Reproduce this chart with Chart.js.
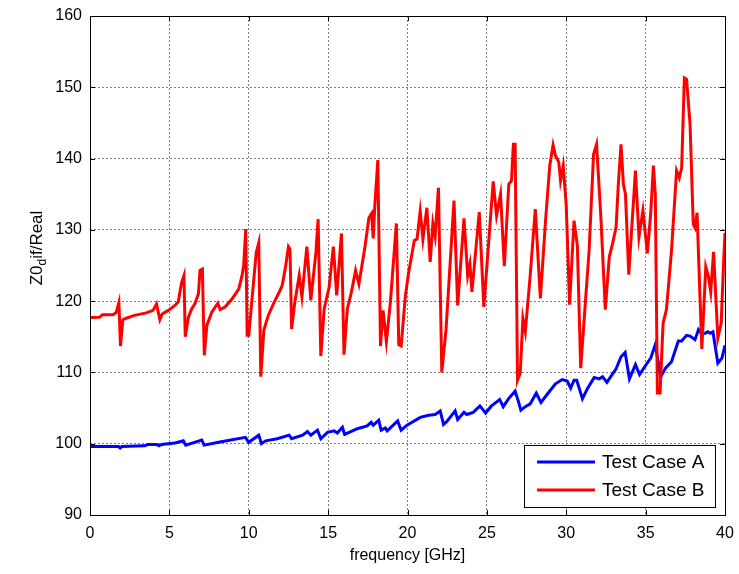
<!DOCTYPE html>
<html>
<head>
<meta charset="utf-8">
<script src="https://cdn.jsdelivr.net/npm/chart.js@4.4.0/dist/chart.umd.min.js"></script>
<style>
  html, body { margin: 0; padding: 0; background: #fff; }
</style>
</head>
<body>
<canvas id="z0Chart" width="739" height="574"></canvas>
<script>
// frequency axis values (GHz) and Z0dif/Real for each test case
const freqA = [0.0, 1.8, 1.9, 2.0, 3.45, 3.66, 4.2, 4.35, 4.5, 5.35, 5.88, 6.03, 7.04, 7.19, 8.1, 9.79, 10.0,
  10.63, 10.8, 11.06, 11.8, 12.54, 12.7, 13.39, 13.7, 13.91, 14.33, 14.54, 14.96, 15.38, 15.58, 15.9, 16.04,
  16.84, 17.46, 17.71, 17.84, 18.19, 18.34, 18.6, 18.72, 19.38, 19.6, 19.97, 20.8, 21.33, 21.74, 22.06, 22.27,
  22.47, 23.0, 23.16, 23.56, 23.73, 24.14, 24.56, 24.92, 25.29, 25.81, 26.03, 26.36, 26.78, 26.99, 27.14, 27.42,
  27.73, 28.11, 28.41, 28.79, 29.32, 29.75, 30.06, 30.28, 30.49, 30.66, 31.02, 31.33, 31.76, 32.08, 32.29, 32.56,
  32.92, 33.14, 33.45, 33.71, 33.98, 34.36, 34.62, 34.94, 35.32, 35.61, 35.95, 36.25, 36.63, 37.06, 37.27, 37.58,
  37.8, 38.11, 38.33, 38.54, 38.75, 38.92, 39.07, 39.24, 39.55, 39.81, 40.0];
const caseA = [99.6, 99.6, 99.4, 99.6, 99.7, 99.9, 99.9, 99.7, 99.9, 100.1, 100.4, 99.8, 100.5, 99.8, 100.2, 100.9, 100.2,
  101.2, 100.0, 100.4, 100.7, 101.2, 100.7, 101.2, 101.7, 101.2, 101.9, 100.7, 101.6, 101.8, 101.5, 102.3, 101.3,
  102.1, 102.5, 103.0, 102.6, 103.3, 101.9, 102.2, 101.8, 103.2, 101.9, 102.6, 103.7, 104.0, 104.1, 104.6, 102.7,
  103.1, 104.6, 103.4, 104.4, 104.1, 104.4, 105.3, 104.3, 105.3, 106.2, 105.2, 106.3, 107.4, 105.9, 104.7, 105.2,
  105.6, 107.1, 105.8, 106.9, 108.4, 109.0, 108.8, 107.8, 108.9, 108.9, 106.3, 107.7, 109.3, 109.1, 109.4, 108.6,
  109.8, 110.5, 112.2, 112.8, 109.1, 111.1, 109.7, 110.8, 112.0, 113.9, 109.4, 110.6, 111.5, 114.4, 114.4, 115.2,
  115.1, 114.6, 116.0, 115.4, 115.5, 115.7, 115.5, 115.7, 111.3, 112.0, 113.8];

const freqB = [0.0, 0.6, 0.8, 1.45, 1.65, 1.82, 1.92, 2.07, 2.28, 2.8, 3.55, 3.97, 4.19, 4.4, 4.55, 4.93, 5.35, 5.56,
  5.77, 5.92, 6.0, 6.2, 6.4, 6.6, 6.83, 6.93, 7.08, 7.2, 7.36, 7.67, 8.05, 8.2, 8.52, 8.94, 9.37, 9.58, 9.68, 9.81,
  9.9, 10.0, 10.3, 10.47, 10.63, 10.76, 10.95, 11.23, 11.59, 11.86, 12.11, 12.33, 12.5, 12.6, 12.7, 12.9, 13.18,
  13.35, 13.66, 13.91, 14.23, 14.37, 14.54, 14.75, 15.06, 15.33, 15.54, 15.84, 16.0, 16.21, 16.46, 16.73, 16.94,
  17.3, 17.57, 17.74, 17.84, 17.94, 18.13, 18.3, 18.46, 18.67, 18.92, 19.3, 19.45, 19.6, 19.87, 20.07, 20.43, 20.6,
  20.8, 20.97, 21.22, 21.43, 21.6, 21.74, 21.95, 22.16, 22.43, 22.93, 23.16, 23.56, 23.79, 23.93, 24.06, 24.52,
  24.81, 25.4, 25.61, 25.86, 26.1, 26.38, 26.55, 26.67, 26.78, 26.93, 27.1, 27.27, 27.42, 27.73, 28.05, 28.37,
  28.69, 28.96, 29.17, 29.32, 29.53, 29.64, 29.81, 30.0, 30.21, 30.49, 30.7, 30.91, 31.23, 31.44, 31.72, 31.91,
  32.18, 32.46, 32.71, 32.92, 33.14, 33.28, 33.45, 33.6, 33.73, 33.94, 34.13, 34.36, 34.58, 34.83, 35.11, 35.32,
  35.49, 35.61, 35.74, 35.91, 36.1, 36.31, 36.63, 36.95, 37.12, 37.27, 37.44, 37.58, 37.8, 38.0, 38.11, 38.24,
  38.54, 38.79, 38.96, 39.1, 39.28, 39.55, 39.76, 39.92, 40.0];
const caseB = [117.7, 117.75, 118.1, 118.1, 118.4, 119.8, 113.7, 117.4, 117.6, 118.0, 118.35, 118.7, 119.6, 117.4,
  118.2, 118.7, 119.4, 119.9, 122.6, 123.6, 115.0, 117.75, 118.9, 119.6, 121.0, 124.3, 124.5, 112.4, 116.6, 118.45,
  119.7, 118.8, 119.2, 120.3, 121.7, 123.6, 125.0, 130.1, 115.2, 115.2, 122.6, 126.8, 128.2, 109.4, 115.9, 118.0,
  119.8, 121.0, 122.2, 125.0, 127.65, 127.3, 116.1, 119.8, 123.6, 120.6, 127.65, 120.1, 126.8, 131.5, 112.3, 118.9,
  121.9, 127.65, 120.8, 129.5, 112.5, 118.9, 121.2, 124.3, 122.4, 127.3, 131.7, 132.3, 128.8, 133.3, 139.8, 113.7,
  118.7, 114.3, 119.8, 130.9, 113.9, 113.7, 120.8, 124.0, 128.5, 128.7, 132.6, 128.7, 133.1, 125.5, 130.9, 129.1,
  135.9, 110.0, 116.1, 134.1, 119.4, 131.6, 123.6, 125.2, 121.3, 132.5, 119.2, 136.8, 132.0, 135.0, 124.9, 136.4,
  136.9, 142.0, 142.0, 108.9, 109.9, 117.55, 115.7, 123.6, 132.9, 120.4, 131.1, 139.0, 141.9, 140.4, 139.5, 136.9,
  139.0, 133.4, 119.5, 131.3, 127.8, 110.6, 120.6, 127.1, 140.6, 142.0, 131.8, 118.8, 126.2, 128.1, 130.4, 136.4,
  142.0, 136.4, 135.0, 123.7, 130.4, 138.3, 129.0, 132.7, 126.7, 132.3, 139.0, 135.0, 107.1, 107.1, 116.9, 118.8,
  127.1, 138.3, 137.3, 138.7, 151.3, 151.1, 144.8, 130.8, 130.3, 132.4, 113.3, 124.8, 123.4, 121.3, 126.9, 114.8,
  116.9, 125.8, 129.6];

const seriesNames = ['Test Case A', 'Test Case B'];
const seriesColors = ['#0000ff', '#ff0000'];
const xTicks = [0, 5, 10, 15, 20, 25, 30, 35, 40];
const yTicks = [90, 100, 110, 120, 130, 140, 150, 160];

const FONT = '"Liberation Sans", Arial, Helvetica, sans-serif';

function toPoints(xs, ys) {
  return xs.map((x, i) => ({ x: x, y: ys[i] }));
}

// box around the axes, inward ticks, y label with subscript and the legend inside the plot
const matlabDecor = {
  id: 'matlabDecor',
  afterDraw(chart) {
    const ctx = chart.ctx;
    const a = chart.chartArea;
    const xs = chart.scales.x, ys = chart.scales.y;
    ctx.save();
    ctx.strokeStyle = '#000';
    ctx.lineWidth = 1;
    ctx.strokeRect(Math.round(a.left) + 0.5, Math.round(a.top) + 0.5,
      Math.round(a.right - a.left), Math.round(a.bottom - a.top));
    ctx.beginPath();
    const tl = 5;
    xTicks.forEach(t => {
      const px = Math.round(xs.getPixelForValue(t)) + 0.5;
      ctx.moveTo(px, a.bottom); ctx.lineTo(px, a.bottom - tl);
      ctx.moveTo(px, a.top); ctx.lineTo(px, a.top + tl);
    });
    yTicks.forEach(t => {
      const py = Math.round(ys.getPixelForValue(t)) + 0.5;
      ctx.moveTo(a.left, py); ctx.lineTo(a.left + tl, py);
      ctx.moveTo(a.right, py); ctx.lineTo(a.right - tl, py);
    });
    ctx.stroke();

    // y axis label: Z0 with subscript d, then if/Real
    ctx.fillStyle = '#000';
    ctx.textBaseline = 'alphabetic';
    const big = '17px ' + FONT, small = '12px ' + FONT;
    ctx.font = big;
    const w1 = ctx.measureText('Z0').width;
    const w3 = ctx.measureText('if/Real').width;
    ctx.font = small;
    const w2 = ctx.measureText('d').width;
    const total = w1 + w2 + w3;
    ctx.translate(42, 248);
    ctx.rotate(-Math.PI / 2);
    let x0 = -total / 2;
    ctx.font = big;
    ctx.fillText('Z0', x0, 0);
    ctx.font = small;
    ctx.fillText('d', x0 + w1, 4);
    ctx.font = big;
    ctx.fillText('if/Real', x0 + w1 + w2, 0);
    ctx.restore();

    // legend box
    ctx.save();
    const lx = 524, ly = 445, lw = 191, lh = 62;
    ctx.fillStyle = '#fff';
    ctx.fillRect(lx, ly, lw, lh);
    ctx.strokeStyle = '#000';
    ctx.lineWidth = 1;
    ctx.strokeRect(lx + 0.5, ly + 0.5, lw, lh);
    ctx.font = '19px ' + FONT;
    ctx.textBaseline = 'middle';
    chart.data.datasets.forEach((ds, i) => {
      const yy = 462 + i * 28;
      ctx.strokeStyle = ds.borderColor;
      ctx.lineWidth = 3;
      ctx.beginPath();
      ctx.moveTo(537, yy); ctx.lineTo(595, yy);
      ctx.stroke();
      ctx.fillStyle = '#000';
      ctx.fillText(ds.label, 602, yy + 1);
    });
    ctx.restore();
  }
};

const gridStyle = { color: 'rgba(0,0,0,0.5)', lineWidth: 1, drawTicks: false };

const ctx = document.getElementById('z0Chart').getContext('2d');
const z0Chart = new Chart(ctx, {
  type: 'line',
  data: {
    datasets: [
      {
        label: seriesNames[0],
        data: toPoints(freqA, caseA),
        borderColor: seriesColors[0],
        borderWidth: 3,
        pointRadius: 0,
        tension: 0,
        fill: false,
        order: 1
      },
      {
        label: seriesNames[1],
        data: toPoints(freqB, caseB),
        borderColor: seriesColors[1],
        borderWidth: 3,
        pointRadius: 0,
        tension: 0,
        fill: false,
        order: 0
      }
    ]
  },
  options: {
    responsive: false,
    animation: false,
    devicePixelRatio: 1,
    layout: { padding: { left: 0, right: 14, top: 16, bottom: 0 } },
    plugins: {
      legend: { display: false },
      tooltip: { enabled: false }
    },
    scales: {
      x: {
        type: 'linear',
        min: 0,
        max: 40,
        afterBuildTicks: s => { s.ticks = xTicks.map(v => ({ value: v })); },
        afterFit: s => { s.height = 59; s.paddingLeft = 0; s.paddingRight = 0; },
        grid: gridStyle,
        border: { display: false, dash: [2, 2] },
        ticks: { color: '#000', padding: 9, font: { family: FONT, size: 16 }, maxRotation: 0 },
        title: {
          display: true,
          text: 'frequency [GHz]',
          color: '#000',
          font: { family: FONT, size: 16 },
          padding: { top: 0, bottom: 9 }
        }
      },
      y: {
        min: 90,
        max: 160,
        afterBuildTicks: s => { s.ticks = yTicks.map(v => ({ value: v })); },
        afterFit: s => { s.width = 90; s.paddingTop = 0; s.paddingBottom = 0; },
        grid: gridStyle,
        border: { display: false, dash: [2, 2] },
        ticks: { color: '#000', padding: 8, font: { family: FONT, size: 16 } }
      }
    }
  },
  plugins: [matlabDecor]
});
</script>
</body>
</html>
